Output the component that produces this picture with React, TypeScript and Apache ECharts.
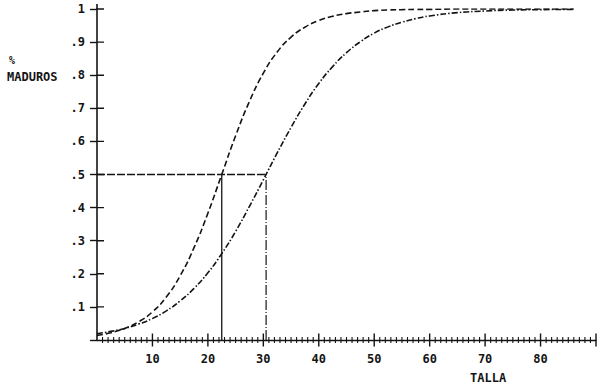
import React, { useEffect, useRef } from "react";
import * as echarts from "echarts";

// TALLA (length) sample points
const tallaPoints = [0, 2.5, 5, 7.5, 10, 12.5, 15, 17.5, 20, 22.5, 25, 27.5, 30, 32.5, 35, 37.5, 40, 42.5, 45, 47.5, 50, 52.5, 55, 57.5, 60, 65, 70, 75, 80, 86];
// % maduros, steeper curve (L50 ~ 22.5)
const curveA = [0.014, 0.022, 0.035, 0.055, 0.085, 0.13, 0.194, 0.279, 0.383, 0.5, 0.617, 0.721, 0.806, 0.87, 0.915, 0.945, 0.965, 0.978, 0.986, 0.991, 0.995, 0.997, 0.998, 0.999, 0.999, 1.0, 1.0, 1.0, 1.0, 1.0];
// % maduros, flatter curve (L50 ~ 30.5)
const curveB = [0.019, 0.026, 0.035, 0.048, 0.065, 0.088, 0.118, 0.156, 0.203, 0.261, 0.328, 0.404, 0.484, 0.565, 0.642, 0.713, 0.775, 0.826, 0.868, 0.901, 0.927, 0.946, 0.96, 0.971, 0.979, 0.989, 0.994, 0.997, 0.998, 0.999];
// Lengths at 50% maturity
const l50Values = [22.5, 30.5];
const halfLevel = 0.5;
const xTickLabels = ["10", "20", "30", "40", "50", "60", "70", "80"];
const yTickLabels = [".1", ".2", ".3", ".4", ".5", ".6", ".7", ".8", ".9", "1"];
const xMajorTicks = [10, 20, 30, 40, 50, 60, 70, 80, 90];
const yMajorTicks = [0.1, 0.2, 0.3, 0.4, 0.5, 0.6, 0.7, 0.8, 0.9, 1];

const INK = "#141414";
const FONT = "DejaVu Sans Mono";
// plot geometry (px)
const GRID_LEFT = 97;
const GRID_RIGHT = 4;
const GRID_TOP = 9;
const GRID_BOTTOM = 49;
const X_MAX = 90;

export default function App() {
  const ref = useRef<HTMLDivElement>(null);
  useEffect(() => {
    if (!ref.current) return;
    const chart = echarts.init(ref.current, null, { renderer: "svg" });
    const zip = (ys: number[]) => tallaPoints.map((x, i) => [x, ys[i]]);
    const pxPerX = (600 - GRID_LEFT - GRID_RIGHT) / X_MAX;
    const pxPerY = 389 - GRID_TOP - GRID_BOTTOM;
    const xMinorTicks: number[] = [];
    for (let v = 1; v < X_MAX; v++) if (v % 10 !== 0) xMinorTicks.push(v);
    // crossing tick segments on the x axis, broken by '-' gaps
    const vTicks = (xs: number[], halfPx: number) => {
      const d = halfPx / pxPerY;
      const out: any[] = [];
      xs.forEach((v) => {
        out.push([v, -d], [v, d], [v, "-"]);
      });
      return out;
    };
    // inner half of the y-axis ticks (outer half is the axis' own tick)
    const hTicks = (ys: number[], lenPx: number) => {
      const d = lenPx / pxPerX;
      const out: any[] = [];
      ys.forEach((v) => {
        out.push([0, v], [d, v], ["-", v]);
      });
      return out;
    };
    const tickLine = (data: any[], width: number) => ({
      type: "line",
      data,
      showSymbol: false,
      connectNulls: false,
      clip: false,
      silent: true,
      lineStyle: { color: INK, width, type: "solid" },
      z: 5,
    });
    const xLabel = (v: number) => {
      const s = String(Math.round(v));
      return xTickLabels.includes(s) ? s : "";
    };
    const yLabel = (v: number) => {
      const idx = Math.round(v * 10) - 1;
      return idx >= 0 && idx < yTickLabels.length ? yTickLabels[idx] : "";
    };
    chart.setOption({
      animation: false,
      backgroundColor: "#ffffff",
      grid: { left: GRID_LEFT, right: GRID_RIGHT, top: GRID_TOP, bottom: GRID_BOTTOM, containLabel: false },
      xAxis: {
        type: "value",
        min: 0,
        max: X_MAX,
        interval: 10,
        splitLine: { show: false },
        axisLine: { show: true, onZero: false, lineStyle: { color: INK, width: 1.4 } },
        axisTick: { show: false },
        axisLabel: {
          show: true,
          margin: 13,
          formatter: xLabel,
          color: INK,
          fontFamily: FONT,
          fontWeight: "bold",
          fontSize: 12,
        },
      },
      yAxis: {
        type: "value",
        min: 0,
        max: 1,
        interval: 0.1,
        splitLine: { show: false },
        axisLine: { show: true, onZero: false, lineStyle: { color: INK, width: 1.6 } },
        axisTick: { show: true, inside: false, length: 7, lineStyle: { color: INK, width: 1.4 } },
        axisLabel: {
          show: true,
          margin: 12,
          formatter: yLabel,
          color: INK,
          fontFamily: FONT,
          fontWeight: "bold",
          fontSize: 12,
        },
      },
      graphic: [
        {
          type: "text",
          left: 9,
          top: 55,
          style: { text: "%", fill: INK, font: `bold 10px ${FONT}` },
        },
        {
          type: "text",
          left: 7,
          top: 71,
          style: { text: "MADUROS", fill: INK, font: `bold 12px ${FONT}` },
        },
        {
          type: "text",
          left: 470,
          top: 372,
          style: { text: "TALLA", fill: INK, font: `bold 12px ${FONT}` },
        },
      ],
      series: [
        {
          type: "line",
          data: zip(curveA),
          smooth: true,
          showSymbol: false,
          lineStyle: { color: INK, width: 1.6, type: [6, 3] },
        },
        {
          type: "line",
          data: zip(curveB),
          smooth: true,
          showSymbol: false,
          lineStyle: { color: INK, width: 1.6, type: [6, 2, 1.5, 2] },
        },
        {
          type: "line",
          data: [
            [0, halfLevel],
            [l50Values[1], halfLevel],
          ],
          showSymbol: false,
          lineStyle: { color: INK, width: 1.3, type: [8, 2] },
        },
        {
          type: "line",
          data: [
            [l50Values[0], 0],
            [l50Values[0], halfLevel],
          ],
          showSymbol: false,
          lineStyle: { color: INK, width: 1.3, type: "solid" },
        },
        {
          type: "line",
          data: [
            [l50Values[1], 0],
            [l50Values[1], halfLevel],
          ],
          showSymbol: false,
          lineStyle: { color: INK, width: 1.2, type: [10, 2, 1, 2] },
        },
        // short extension of the y axis above 1
        tickLine([[0, 1], [0, 1 + 5 / pxPerY]], 1.6),
        tickLine(vTicks(xMinorTicks, 3), 1.1),
        tickLine(vTicks(xMajorTicks, 6.5), 1.4),
        tickLine(hTicks(yMajorTicks, 7), 1.4),
      ],
    });
    return () => chart.dispose();
  }, []);
  return <div ref={ref} style={{ width: 600, height: 389, position: "absolute", left: 0, top: 0 }} />;
}
